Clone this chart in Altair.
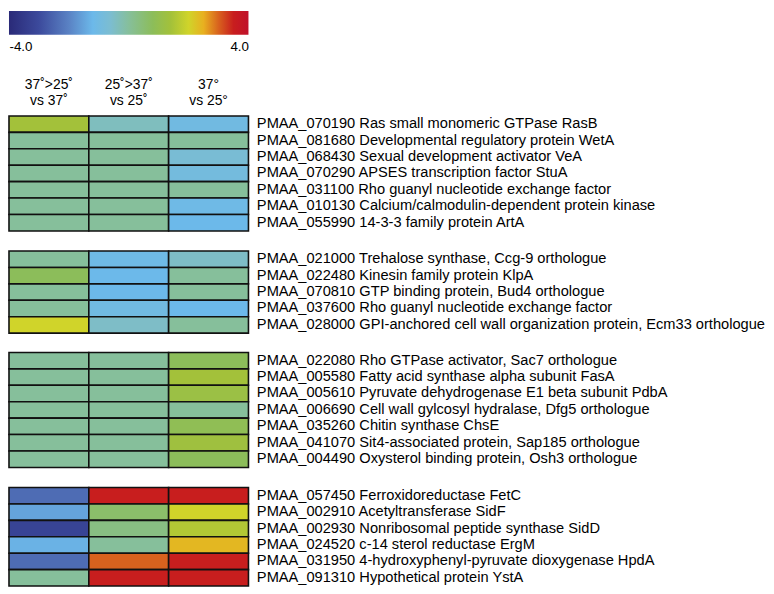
import altair as alt
import pandas as pd

# ---- colour scale ----
cb_min, cb_max = -4.0, 4.0
stop_values = [-4.0, -3.0, -2.0, -1.2, -0.6, 0.0, 0.8, 1.4, 2.0, 2.5, 3.0, 3.5, 4.0]
stop_colors = ["#2a2a78", "#3c4a9c", "#5a82c4", "#6cb9ea", "#7cbdd0", "#86bf9b",
               "#8cbd5a", "#a3c13a", "#d0d42a", "#e8b020", "#d8621e", "#c81e1e", "#c0102a"]

conditions = ["37>25 vs 37", "25>37 vs 25", "37 vs 25"]
headers = ["37˚>25˚\nvs 37˚", "25˚>37˚\nvs 25˚", "37°\nvs 25°"]

# ---- group 1 ----
g1_genes = [
    "PMAA_070190 Ras small monomeric GTPase RasB",
    "PMAA_081680 Developmental regulatory protein WetA",
    "PMAA_068430 Sexual development activator VeA",
    "PMAA_070290 APSES transcription factor StuA",
    "PMAA_031100 Rho guanyl nucleotide exchange factor",
    "PMAA_010130 Calcium/calmodulin-dependent protein kinase",
    "PMAA_055990 14-3-3 family protein ArtA",
]
g1_c1 = [1.4, 0.0, 0.0, 0.0, 0.0, 0.0, 0.0]
g1_c2 = [-0.4, 0.0, 0.0, 0.0, 0.0, 0.0, 0.0]
g1_c3 = [-1.0, 0.0, -0.7, -0.9, 0.0, -1.1, -1.2]

# ---- group 2 ----
g2_genes = [
    "PMAA_021000 Trehalose synthase, Ccg-9 orthologue",
    "PMAA_022480 Kinesin family protein KlpA",
    "PMAA_070810 GTP binding protein, Bud4 orthologue",
    "PMAA_037600 Rho guanyl nucleotide exchange factor ",
    "PMAA_028000 GPI-anchored cell wall organization protein, Ecm33 orthologue",
]
g2_c1 = [0.0, 0.8, 0.0, 0.0, 2.0]
g2_c2 = [-1.1, -1.2, -1.2, -1.0, -0.5]
g2_c3 = [-0.5, 0.0, 0.0, -1.2, 0.0]

# ---- group 3 ----
g3_genes = [
    "PMAA_022080 Rho GTPase activator, Sac7 orthologue",
    "PMAA_005580 Fatty acid synthase alpha subunit FasA",
    "PMAA_005610 Pyruvate dehydrogenase E1 beta subunit PdbA",
    "PMAA_006690 Cell wall gylcosyl hydralase, Dfg5 orthologue",
    "PMAA_035260 Chitin synthase ChsE",
    "PMAA_041070 Sit4-associated protein, Sap185 orthologue",
    "PMAA_004490 Oxysterol binding protein, Osh3 orthologue",
]
g3_c1 = [0.0, 0.0, 0.0, 0.0, 0.0, 0.0, 0.0]
g3_c2 = [0.0, 0.0, 0.0, 0.0, 0.0, 0.0, 0.0]
g3_c3 = [0.8, 1.4, 1.2, 0.0, 0.9, 1.3, 0.8]

# ---- group 4 ----
g4_genes = [
    "PMAA_057450 Ferroxidoreductase FetC",
    "PMAA_002910 Acetyltransferase SidF",
    "PMAA_002930 Nonribosomal peptide synthase SidD",
    "PMAA_024520 c-14 sterol reductase ErgM",
    "PMAA_031950 4-hydroxyphenyl-pyruvate dioxygenase HpdA",
    "PMAA_091310 Hypothetical protein YstA",
]
g4_c1 = [-2.4, -1.5, -3.2, -1.3, -2.4, 0.0]
g4_c2 = [3.5, 0.6, 0.3, 0.0, 3.0, 3.5]
g4_c3 = [3.5, 2.0, 1.6, 2.4, 3.5, 3.5]

groups = [
    (g1_genes, [g1_c1, g1_c2, g1_c3]),
    (g2_genes, [g2_c1, g2_c2, g2_c3]),
    (g3_genes, [g3_c1, g3_c2, g3_c3]),
    (g4_genes, [g4_c1, g4_c2, g4_c3]),
]

FONT = "Liberation Sans"
ROW = 16.6
W = 242

color_scale = alt.Scale(domain=stop_values, range=stop_colors, interpolate="rgb")

# colour bar
gradient = alt.LinearGradient(
    gradient="linear",
    stops=[alt.GradientStop(offset=(v - cb_min) / (cb_max - cb_min), color=c)
           for v, c in zip(stop_values, stop_colors)],
    x1=0, x2=1, y1=0, y2=0,
)
colorbar = alt.Chart(pd.DataFrame({"lo": [cb_min], "hi": [cb_max]})).mark_rect(
    color=gradient
).encode(
    x=alt.X("lo:Q", scale=alt.Scale(domain=[cb_min, cb_max], nice=False, zero=False),
            axis=alt.Axis(values=[cb_min, cb_max], labelFlush=True, ticks=False, domain=False,
                          grid=False, title=None, labelFontSize=13.5, labelPadding=5,
                          labelColor="black",
                          labelExpr="datum.value < 0 ? '-' + format(-datum.value, '.1f') : format(datum.value, '.1f')")),
    x2="hi:Q",
    y=alt.value(0),
    y2=alt.value(24),
).properties(width=W, height=24)

# headers
header_chart = alt.Chart(pd.DataFrame({"cond": conditions, "header": headers})).mark_text(
    lineBreak="\n", fontSize=14, lineHeight=16.5, baseline="top", color="black", font=FONT
).encode(
    x=alt.X("cond:N", sort=conditions, axis=None),
    y=alt.value(24),
    text="header:N",
).properties(width=W, height=43)

panels = [colorbar, header_chart]
for genes, cols in groups:
    rows = []
    for cond, vals in zip(conditions, cols):
        for g, v in zip(genes, vals):
            rows.append({"gene": g, "cond": cond, "value": v})
    df = pd.DataFrame(rows)
    p = alt.Chart(df).mark_rect(stroke="#111111", strokeWidth=1.6).encode(
        x=alt.X("cond:N", sort=conditions, axis=None),
        y=alt.Y("gene:N", sort=genes,
                axis=alt.Axis(orient="right", title=None, ticks=False, domain=False,
                              labelFontSize=14.8, labelLimit=0, labelPadding=8,
                              labelColor="black", labelFont=FONT)),
        color=alt.Color("value:Q", scale=color_scale, legend=None),
    ).properties(width=W, height=len(genes) * ROW)
    panels.append(p)

chart = alt.vconcat(*panels, spacing=19.5, bounds="flush").configure(
    font=FONT, padding=0
).configure_view(stroke=None)

chart.save("out.html", embed_options={"renderer": "svg", "actions": False})
